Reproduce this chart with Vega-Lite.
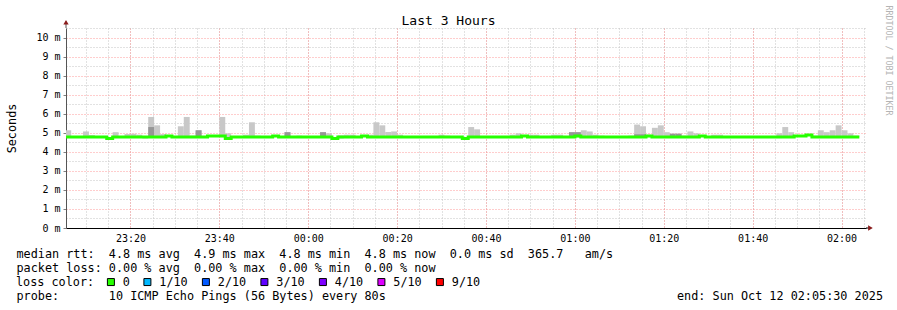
{
  "$schema": "https://vega.github.io/schema/vega-lite/v6.json",
  "width": 800,
  "height": 200,
  "autosize": {"type": "none"},
  "padding": {"left": 66, "top": 28, "right": 31, "bottom": 82},
  "background": "white",
  "config": {
    "view": {"stroke": null},
    "font": "DejaVu Sans Mono",
    "axis": {"labelFont": "DejaVu Sans Mono", "titleFont": "DejaVu Sans Mono"},
    "legend": {"labelFont": "DejaVu Sans Mono", "titleFont": "DejaVu Sans Mono"}
  },
  "datasets": {
    "smoke": [
      {"start": "2025-10-11T23:05:30", "end": "2025-10-11T23:06:40", "low": 4.77, "high": 5.13},
      {"start": "2025-10-11T23:09:20", "end": "2025-10-11T23:10:40", "low": 4.77, "high": 5.07},
      {"start": "2025-10-11T23:10:40", "end": "2025-10-11T23:12:00", "low": 4.77, "high": 4.88},
      {"start": "2025-10-11T23:16:00", "end": "2025-10-11T23:17:20", "low": 4.77, "high": 5.03},
      {"start": "2025-10-11T23:18:40", "end": "2025-10-11T23:20:00", "low": 4.77, "high": 4.93},
      {"start": "2025-10-11T23:20:00", "end": "2025-10-11T23:21:20", "low": 4.77, "high": 4.95},
      {"start": "2025-10-11T23:21:20", "end": "2025-10-11T23:22:40", "low": 4.77, "high": 4.9},
      {"start": "2025-10-11T23:22:40", "end": "2025-10-11T23:24:00", "low": 4.7, "high": 4.8},
      {"start": "2025-10-11T23:24:00", "end": "2025-10-11T23:25:20", "low": 4.77, "high": 5.83, "darkHigh": 5.3},
      {"start": "2025-10-11T23:25:20", "end": "2025-10-11T23:26:40", "low": 4.77, "high": 5.39},
      {"start": "2025-10-11T23:26:40", "end": "2025-10-11T23:28:00", "low": 4.77, "high": 4.93},
      {"start": "2025-10-11T23:30:40", "end": "2025-10-11T23:32:00", "low": 4.77, "high": 5.34},
      {"start": "2025-10-11T23:32:00", "end": "2025-10-11T23:33:20", "low": 4.77, "high": 5.83},
      {"start": "2025-10-11T23:33:20", "end": "2025-10-11T23:34:40", "low": 4.77, "high": 4.85},
      {"start": "2025-10-11T23:34:40", "end": "2025-10-11T23:36:00", "low": 4.77, "high": 5.13, "darkHigh": 5.13},
      {"start": "2025-10-11T23:40:00", "end": "2025-10-11T23:41:20", "low": 4.77, "high": 5.83},
      {"start": "2025-10-11T23:41:20", "end": "2025-10-11T23:42:40", "low": 4.72, "high": 4.97},
      {"start": "2025-10-11T23:45:20", "end": "2025-10-11T23:46:40", "low": 4.77, "high": 4.9},
      {"start": "2025-10-11T23:46:40", "end": "2025-10-11T23:48:00", "low": 4.77, "high": 5.55},
      {"start": "2025-10-11T23:48:00", "end": "2025-10-11T23:49:20", "low": 4.77, "high": 4.85},
      {"start": "2025-10-11T23:54:40", "end": "2025-10-11T23:56:00", "low": 4.77, "high": 5.03, "darkHigh": 5.03},
      {"start": "2025-10-11T23:57:20", "end": "2025-10-11T23:58:40", "low": 4.77, "high": 4.85},
      {"start": "2025-10-12T00:02:40", "end": "2025-10-12T00:04:00", "low": 4.77, "high": 5.03, "darkHigh": 5.03},
      {"start": "2025-10-12T00:04:00", "end": "2025-10-12T00:05:20", "low": 4.77, "high": 4.97},
      {"start": "2025-10-12T00:06:40", "end": "2025-10-12T00:08:00", "low": 4.7, "high": 4.87},
      {"start": "2025-10-12T00:08:00", "end": "2025-10-12T00:09:20", "low": 4.72, "high": 4.9},
      {"start": "2025-10-12T00:09:20", "end": "2025-10-12T00:10:40", "low": 4.77, "high": 4.9},
      {"start": "2025-10-12T00:13:20", "end": "2025-10-12T00:14:40", "low": 4.77, "high": 4.9},
      {"start": "2025-10-12T00:14:40", "end": "2025-10-12T00:16:00", "low": 4.77, "high": 5.55},
      {"start": "2025-10-12T00:16:00", "end": "2025-10-12T00:17:20", "low": 4.77, "high": 5.39},
      {"start": "2025-10-12T00:17:20", "end": "2025-10-12T00:18:40", "low": 4.77, "high": 5.04},
      {"start": "2025-10-12T00:18:40", "end": "2025-10-12T00:20:00", "low": 4.77, "high": 5.07},
      {"start": "2025-10-12T00:20:00", "end": "2025-10-12T00:21:20", "low": 4.77, "high": 4.9},
      {"start": "2025-10-12T00:29:20", "end": "2025-10-12T00:30:40", "low": 4.77, "high": 4.9},
      {"start": "2025-10-12T00:30:40", "end": "2025-10-12T00:32:00", "low": 4.77, "high": 4.85},
      {"start": "2025-10-12T00:36:00", "end": "2025-10-12T00:37:20", "low": 4.77, "high": 5.3},
      {"start": "2025-10-12T00:37:20", "end": "2025-10-12T00:38:40", "low": 4.77, "high": 5.18},
      {"start": "2025-10-12T00:45:20", "end": "2025-10-12T00:46:40", "low": 4.77, "high": 4.9},
      {"start": "2025-10-12T00:46:40", "end": "2025-10-12T00:48:00", "low": 4.77, "high": 4.97},
      {"start": "2025-10-12T00:49:20", "end": "2025-10-12T00:50:40", "low": 4.77, "high": 4.9},
      {"start": "2025-10-12T00:50:40", "end": "2025-10-12T00:52:00", "low": 4.77, "high": 4.9},
      {"start": "2025-10-12T00:54:40", "end": "2025-10-12T00:56:00", "low": 4.77, "high": 4.9},
      {"start": "2025-10-12T00:56:00", "end": "2025-10-12T00:57:20", "low": 4.77, "high": 4.9},
      {"start": "2025-10-12T00:58:40", "end": "2025-10-12T01:00:00", "low": 4.77, "high": 5.03, "darkHigh": 5.03},
      {"start": "2025-10-12T01:00:00", "end": "2025-10-12T01:01:20", "low": 4.77, "high": 5.03, "darkHigh": 5.03},
      {"start": "2025-10-12T01:01:20", "end": "2025-10-12T01:02:40", "low": 4.77, "high": 5.13},
      {"start": "2025-10-12T01:02:40", "end": "2025-10-12T01:04:00", "low": 4.77, "high": 5.07},
      {"start": "2025-10-12T01:04:00", "end": "2025-10-12T01:05:20", "low": 4.77, "high": 4.9},
      {"start": "2025-10-12T01:05:20", "end": "2025-10-12T01:06:40", "low": 4.77, "high": 4.85},
      {"start": "2025-10-12T01:12:00", "end": "2025-10-12T01:13:20", "low": 4.77, "high": 4.85},
      {"start": "2025-10-12T01:13:20", "end": "2025-10-12T01:14:40", "low": 4.77, "high": 5.43, "darkHigh": 4.92},
      {"start": "2025-10-12T01:14:40", "end": "2025-10-12T01:16:00", "low": 4.77, "high": 5.34, "darkHigh": 4.92},
      {"start": "2025-10-12T01:16:00", "end": "2025-10-12T01:17:20", "low": 4.77, "high": 4.9},
      {"start": "2025-10-12T01:17:20", "end": "2025-10-12T01:18:40", "low": 4.77, "high": 5.26},
      {"start": "2025-10-12T01:18:40", "end": "2025-10-12T01:20:00", "low": 4.77, "high": 5.39},
      {"start": "2025-10-12T01:20:00", "end": "2025-10-12T01:21:20", "low": 4.77, "high": 5.03},
      {"start": "2025-10-12T01:21:20", "end": "2025-10-12T01:22:40", "low": 4.77, "high": 4.95, "darkHigh": 4.95},
      {"start": "2025-10-12T01:22:40", "end": "2025-10-12T01:24:00", "low": 4.77, "high": 4.95, "darkHigh": 4.95},
      {"start": "2025-10-12T01:24:00", "end": "2025-10-12T01:25:20", "low": 4.77, "high": 4.85},
      {"start": "2025-10-12T01:25:20", "end": "2025-10-12T01:26:40", "low": 4.77, "high": 5.07},
      {"start": "2025-10-12T01:26:40", "end": "2025-10-12T01:28:00", "low": 4.77, "high": 4.97},
      {"start": "2025-10-12T01:30:40", "end": "2025-10-12T01:32:00", "low": 4.77, "high": 4.9},
      {"start": "2025-10-12T01:32:00", "end": "2025-10-12T01:33:20", "low": 4.77, "high": 4.9},
      {"start": "2025-10-12T01:45:20", "end": "2025-10-12T01:46:40", "low": 4.72, "high": 4.97},
      {"start": "2025-10-12T01:46:40", "end": "2025-10-12T01:48:00", "low": 4.77, "high": 5.3},
      {"start": "2025-10-12T01:48:00", "end": "2025-10-12T01:49:20", "low": 4.77, "high": 5.03},
      {"start": "2025-10-12T01:53:20", "end": "2025-10-12T01:54:40", "low": 4.74, "high": 4.85},
      {"start": "2025-10-12T01:54:40", "end": "2025-10-12T01:56:00", "low": 4.77, "high": 5.13},
      {"start": "2025-10-12T01:56:00", "end": "2025-10-12T01:57:20", "low": 4.77, "high": 5.03},
      {"start": "2025-10-12T01:57:20", "end": "2025-10-12T01:58:40", "low": 4.77, "high": 5.13},
      {"start": "2025-10-12T01:58:40", "end": "2025-10-12T02:00:00", "low": 4.77, "high": 5.39},
      {"start": "2025-10-12T02:00:00", "end": "2025-10-12T02:01:20", "low": 4.77, "high": 5.13},
      {"start": "2025-10-12T02:01:20", "end": "2025-10-12T02:02:40", "low": 4.77, "high": 4.97},
      {"start": "2025-10-12T02:02:40", "end": "2025-10-12T02:04:00", "low": 4.77, "high": 4.85}
    ],
    "median": [
      {"time": "2025-10-11T23:05:30", "median": 4.78, "loss": "0"},
      {"time": "2025-10-11T23:14:40", "median": 4.70, "loss": "0"},
      {"time": "2025-10-11T23:16:00", "median": 4.78, "loss": "0"},
      {"time": "2025-10-11T23:28:00", "median": 4.83, "loss": "0"},
      {"time": "2025-10-11T23:29:20", "median": 4.78, "loss": "0"},
      {"time": "2025-10-11T23:37:20", "median": 4.83, "loss": "0"},
      {"time": "2025-10-11T23:41:20", "median": 4.70, "loss": "0"},
      {"time": "2025-10-11T23:42:40", "median": 4.78, "loss": "0"},
      {"time": "2025-10-11T23:52:00", "median": 4.83, "loss": "0"},
      {"time": "2025-10-11T23:53:20", "median": 4.78, "loss": "0"},
      {"time": "2025-10-12T00:05:20", "median": 4.70, "loss": "0"},
      {"time": "2025-10-12T00:06:40", "median": 4.78, "loss": "0"},
      {"time": "2025-10-12T00:12:00", "median": 4.83, "loss": "0"},
      {"time": "2025-10-12T00:13:20", "median": 4.78, "loss": "0"},
      {"time": "2025-10-12T00:34:40", "median": 4.70, "loss": "0"},
      {"time": "2025-10-12T00:36:00", "median": 4.78, "loss": "0"},
      {"time": "2025-10-12T00:48:00", "median": 4.83, "loss": "0"},
      {"time": "2025-10-12T00:49:20", "median": 4.78, "loss": "0"},
      {"time": "2025-10-12T01:00:00", "median": 4.83, "loss": "0"},
      {"time": "2025-10-12T01:01:20", "median": 4.78, "loss": "0"},
      {"time": "2025-10-12T01:16:00", "median": 4.83, "loss": "0"},
      {"time": "2025-10-12T01:17:20", "median": 4.78, "loss": "0"},
      {"time": "2025-10-12T01:28:00", "median": 4.83, "loss": "0"},
      {"time": "2025-10-12T01:29:20", "median": 4.78, "loss": "0"},
      {"time": "2025-10-12T01:49:20", "median": 4.83, "loss": "0"},
      {"time": "2025-10-12T01:52:00", "median": 4.88, "loss": "0"},
      {"time": "2025-10-12T01:53:20", "median": 4.78, "loss": "0"},
      {"time": "2025-10-12T02:04:00", "median": 4.78, "loss": "0"}
    ]
  },
  "resolve": {"axis": {"x": "independent", "y": "independent"}},
  "layer": [
    {
      "data": {"name": "smoke"},
      "mark": {"type": "rect", "color": "#c8c8c8"},
      "encoding": {
        "x": {
          "field": "start", "type": "temporal",
          "scale": {"domain": [{"year": 2025, "month": 10, "date": 11, "hours": 23, "minutes": 5, "seconds": 30}, {"year": 2025, "month": 10, "date": 12, "hours": 2, "minutes": 5, "seconds": 30}], "nice": false},
          "axis": {
            "orient": "bottom", "tickCount": 36, "grid": true, "gridColor": "#c4c4c4", "gridDash": [1, 2], "gridWidth": 1,
            "labels": false, "ticks": false, "domain": false,
            "title": "probe:\u00a0\u00a0\u00a0\u00a0\u00a0\u00a0\u00a010\u00a0ICMP\u00a0Echo\u00a0Pings\u00a0(56\u00a0Bytes)\u00a0every\u00a080s\u00a0\u00a0\u00a0\u00a0\u00a0\u00a0\u00a0\u00a0\u00a0\u00a0\u00a0\u00a0\u00a0\u00a0\u00a0\u00a0\u00a0\u00a0\u00a0\u00a0\u00a0\u00a0\u00a0\u00a0\u00a0\u00a0\u00a0\u00a0\u00a0\u00a0\u00a0\u00a0\u00a0\u00a0\u00a0\u00a0\u00a0\u00a0\u00a0\u00a0\u00a0end:\u00a0Sun\u00a0Oct\u00a012\u00a002:05:30\u00a02025",
            "titleFontSize": 11.8, "titleFontWeight": "normal", "titleColor": "black", "titleLimit": 2000,
            "titleX": -50, "titleY": 62, "titleAlign": "left", "titleAnchor": "start", "titleBaseline": "top"
          }
        },
        "x2": {"field": "end"},
        "y": {
          "field": "low", "type": "quantitative",
          "scale": {"domain": [0, 10.5], "nice": false, "zero": true},
          "axis": {"orient": "left", "values": [0.5, 1.5, 2.5, 3.5, 4.5, 5.5, 6.5, 7.5, 8.5, 9.5, 10.5], "grid": true, "gridColor": "#c4c4c4", "gridDash": [1, 2], "gridWidth": 1, "labels": false, "ticks": false, "domain": false, "title": null}
        },
        "y2": {"field": "high"}
      }
    },
    {
      "data": {"name": "smoke"},
      "transform": [{"filter": "isValid(datum.darkHigh)"}],
      "mark": {"type": "rect", "color": "#969696"},
      "encoding": {
        "x": {
          "field": "start", "type": "temporal",
          "axis": {
            "orient": "bottom", "format": "%H:%M",
            "values": [
              {"year": 2025, "month": 10, "date": 11, "hours": 23, "minutes": 20},
              {"year": 2025, "month": 10, "date": 11, "hours": 23, "minutes": 40},
              {"year": 2025, "month": 10, "date": 12, "hours": 0, "minutes": 0},
              {"year": 2025, "month": 10, "date": 12, "hours": 0, "minutes": 20},
              {"year": 2025, "month": 10, "date": 12, "hours": 0, "minutes": 40},
              {"year": 2025, "month": 10, "date": 12, "hours": 1, "minutes": 0},
              {"year": 2025, "month": 10, "date": 12, "hours": 1, "minutes": 20},
              {"year": 2025, "month": 10, "date": 12, "hours": 1, "minutes": 40},
              {"year": 2025, "month": 10, "date": 12, "hours": 2, "minutes": 0}
            ],
            "grid": true, "gridColor": "#ff9a9a", "gridDash": [1, 2], "gridWidth": 1,
            "labelFontSize": 10, "labelColor": "black", "labelPadding": 5, "labelFlush": false, "labelOverlap": false,
            "ticks": false, "domain": true, "domainColor": "black", "domainWidth": 1,
            "title": [
              "median\u00a0rtt:\u00a0\u00a04.8\u00a0ms\u00a0avg\u00a0\u00a04.9\u00a0ms\u00a0max\u00a0\u00a04.8\u00a0ms\u00a0min\u00a0\u00a04.8\u00a0ms\u00a0now\u00a0\u00a00.0\u00a0ms\u00a0sd\u00a0\u00a0365.7\u00a0\u00a0\u00a0am/s",
              "packet\u00a0loss:\u00a00.00\u00a0%\u00a0avg\u00a0\u00a00.00\u00a0%\u00a0max\u00a0\u00a00.00\u00a0%\u00a0min\u00a0\u00a00.00\u00a0%\u00a0now"
            ],
            "titleFontSize": 11.8, "titleFontWeight": "normal", "titleColor": "black", "titleLimit": 2000,
            "titleX": -50, "titleY": 20, "titleAlign": "left", "titleAnchor": "start", "titleBaseline": "top", "titleLineHeight": 14
          }
        },
        "x2": {"field": "end"},
        "y": {
          "field": "low", "type": "quantitative",
          "axis": {
            "orient": "left", "values": [0, 1, 2, 3, 4, 5, 6, 7, 8, 9, 10], "labelExpr": "datum.value + ' m'", "labelOverlap": false,
            "grid": true, "gridColor": "#ff9a9a", "gridDash": [1, 2], "gridWidth": 1,
            "ticks": true, "tickSize": 3, "tickColor": "#808080", "labelPadding": 3, "labelFontSize": 10, "labelColor": "black",
            "domain": true, "domainColor": "#555555", "domainWidth": 1,
            "title": "Seconds", "titleFontSize": 11.8, "titleFontWeight": "normal", "titleColor": "black",
            "titleAngle": -90, "titleX": -55, "titleY": 100, "titleAlign": "center", "titleBaseline": "middle"
          }
        },
        "y2": {"field": "darkHigh"}
      }
    },
    {
      "data": {"name": "median"},
      "mark": {"type": "line", "interpolate": "step-after", "strokeWidth": 3, "color": "#26ff00"},
      "encoding": {
        "x": {
          "field": "time", "type": "temporal",
          "axis": {"orient": "top", "labels": false, "ticks": false, "domain": false, "grid": false,
            "title": "Last 3 Hours", "titleFontSize": 13, "titleFontWeight": "normal", "titleColor": "black",
            "titleX": 382, "titleY": -8, "titleAlign": "center", "titleBaseline": "middle"}
        },
        "y": {
          "field": "median", "type": "quantitative",
          "axis": {"orient": "right", "labels": false, "ticks": false, "domain": false, "grid": false,
            "title": "RRDTOOL / TOBI OETIKER", "titleFontSize": 8.3, "titleFontWeight": "normal", "titleColor": "#b4b4b4",
            "titleAngle": 90, "titleX": 21, "titleY": 32, "titleAlign": "center", "titleBaseline": "middle"}
        }
      }
    },
    {
      "data": {"name": "median"},
      "mark": {"type": "point", "shape": "square", "filled": true, "opacity": 0},
      "encoding": {
        "x": {"field": "time", "type": "temporal", "axis": null},
        "y": {"field": "median", "type": "quantitative", "axis": null},
        "color": {
          "field": "loss", "type": "nominal",
          "scale": {"domain": ["0", "1/10", "2/10", "3/10", "4/10", "5/10", "9/10"], "range": ["#26ff00", "#00b8ff", "#0059ff", "#5e00ff", "#7e00ff", "#dd00ff", "#ff0000"]},
          "legend": {
            "orient": "none", "legendX": -50, "legendY": 248, "direction": "horizontal",
            "title": "loss color:", "titleOrient": "left", "titleFontSize": 11.8, "titleFontWeight": "normal", "titleColor": "black", "titlePadding": 10,
            "labelFontSize": 11.8, "labelColor": "black", "labelOffset": 6, "columnPadding": 11.5,
            "symbolType": "square", "symbolSize": 49, "symbolStrokeColor": "black", "symbolStrokeWidth": 1, "symbolOpacity": 1
          }
        }
      }
    },
    {
      "data": {"values": [{}]},
      "mark": {"type": "rule", "color": "#555555", "strokeWidth": 1, "clip": false},
      "encoding": {
        "x": {"datum": {"year": 2025, "month": 10, "date": 11, "hours": 23, "minutes": 5, "seconds": 30}, "type": "temporal", "axis": null},
        "y": {"datum": 10.5, "type": "quantitative", "axis": null},
        "y2": {"datum": 10.85}
      }
    },
    {
      "data": {"values": [{}]},
      "mark": {"type": "rule", "color": "black", "strokeWidth": 1, "clip": false},
      "encoding": {
        "x": {"datum": {"year": 2025, "month": 10, "date": 12, "hours": 2, "minutes": 5, "seconds": 30}, "type": "temporal", "axis": null},
        "x2": {"datum": {"year": 2025, "month": 10, "date": 12, "hours": 2, "minutes": 6, "seconds": 40}},
        "y": {"datum": 0, "type": "quantitative", "axis": null}
      }
    },
    {
      "data": {"values": [{}]},
      "mark": {"type": "point", "shape": "triangle-up", "filled": true, "color": "#8b1c1c", "size": 28, "opacity": 1, "clip": false},
      "encoding": {
        "x": {"datum": {"year": 2025, "month": 10, "date": 11, "hours": 23, "minutes": 5, "seconds": 30}, "type": "temporal", "axis": null},
        "y": {"datum": 10.8, "type": "quantitative", "axis": null}
      }
    },
    {
      "data": {"values": [{}]},
      "mark": {"type": "point", "shape": "triangle-right", "filled": true, "color": "#8b1c1c", "size": 28, "opacity": 1, "clip": false},
      "encoding": {
        "x": {"datum": {"year": 2025, "month": 10, "date": 12, "hours": 2, "minutes": 6, "seconds": 30}, "type": "temporal", "axis": null},
        "y": {"datum": 0, "type": "quantitative", "axis": null}
      }
    }
  ]
}
